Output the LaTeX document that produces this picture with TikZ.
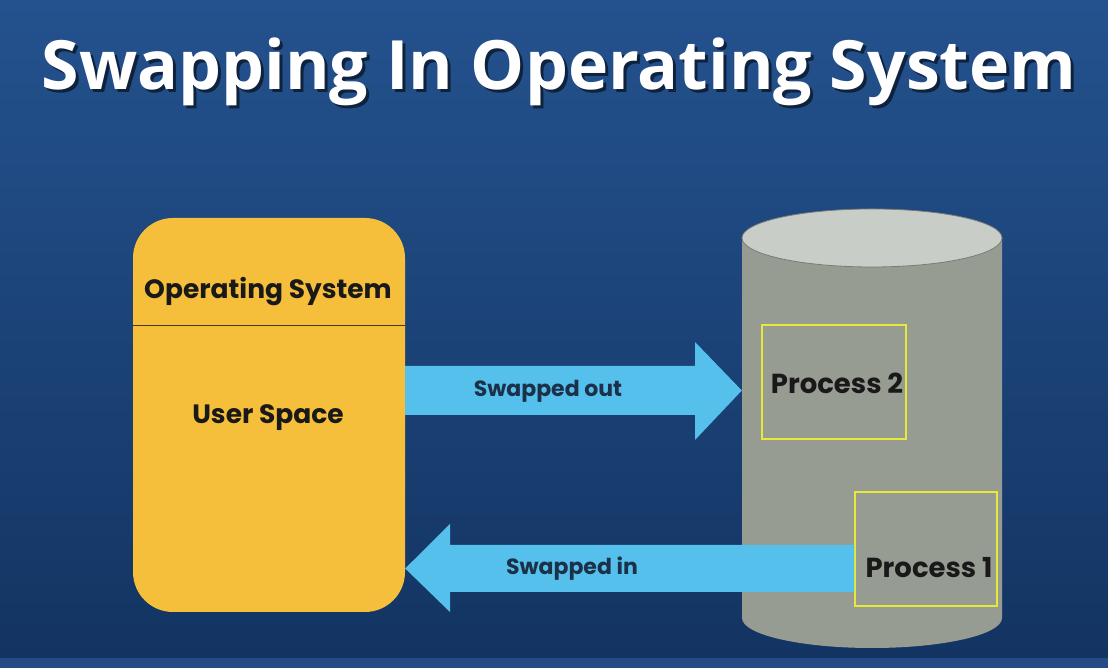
\documentclass[tikz,border=0pt]{standalone}
\usepackage{fontspec}
\setmainfont{Open Sans}
\newfontfamily\labelfont{Poppins}
\usetikzlibrary{calc}
\definecolor{bgtop}{HTML}{24528E}
\definecolor{bgbot}{HTML}{133462}
\definecolor{strip}{HTML}{234C86}
\definecolor{osyellow}{HTML}{F5BE3B}
\definecolor{arrowblue}{HTML}{56C0EC}
\definecolor{cylbody}{HTML}{979C93}
\definecolor{cyltop}{HTML}{C9CDC7}
\definecolor{procedge}{HTML}{E6E83A}
\definecolor{arrowtext}{HTML}{1B3049}
\begin{document}
\begin{tikzpicture}[x=1pt,y=1pt,
  lbl/.style={font=\labelfont\bfseries\fontsize{26.5}{26.5}\selectfont, text=black!90},
  procbox/.style={draw=procedge, line width=2pt, minimum width=#1, minimum height=114pt, inner sep=0pt},
  proclbl/.style={font=\labelfont\bfseries\fontsize{27.5}{27.5}\selectfont, text=black!90, inner sep=0pt},
  arrtxt/.style={font=\labelfont\bfseries\fontsize{22}{22}\selectfont, text=arrowtext, inner sep=0pt},
  bigarrow/.style={fill=arrowblue}]
\useasboundingbox (0,0) rectangle (1108,668);
% background
\shade[top color=bgtop, bottom color=bgbot] (0,10) rectangle (1108,668);
\fill[strip] (0,0) rectangle (1108,10);
% title
\node[anchor=base, text=black!70!bgbot, opacity=0.7, font=\bfseries\fontsize{68}{68}\selectfont] at (562,575) {Swapping In Operating System};
\node[anchor=base, text=white, font=\bfseries\fontsize{68}{68}\selectfont] (title) at (559,578) {Swapping In Operating System};
% memory box
\node[fill=osyellow, rounded corners=40pt, minimum width=272pt, minimum height=394pt, inner sep=0pt] (mem) at (269,253) {};
\draw[black!70!osyellow, line width=1pt] (mem.west |- 0,342) -- (mem.east |- 0,342);
\node[lbl] (os) at (268,376) {Operating System};
\node[lbl] (us) at (268,250) {User Space};
% cylinder (disk)
\coordinate (cyltopc) at (872,430);
\coordinate (cylbotc) at (872,50);
\fill[cylbody] (742,430) -- (742,50) arc[start angle=180, end angle=360, x radius=130, y radius=30] -- (1002,430) -- cycle;
\draw[cyltop!60!black, line width=0.8pt, fill=cyltop] (cyltopc) ellipse[x radius=130, y radius=29];
\node[inner sep=0pt, minimum width=260pt, minimum height=410pt] (disk) at (872,240) {};
% process boxes
\node[procbox=144pt] (p2) at (834,286) {};
\node[proclbl] (p2l) at (837,285) {Process 2};
\node[procbox=142pt] (p1) at (926,119) {};
\node[proclbl] (p1l) at (929,100) {Process 1};
% swapped out arrow
\fill[bigarrow] (mem.east |- 0,302) -- (695,302) -- (695,326) -- (disk.west |- 0,277.5) -- (695,228) -- (695,253) -- (mem.east |- 0,253) -- cycle;
\node[arrtxt] (sol) at (548,277) {Swapped out};
% swapped in arrow
\fill[bigarrow] (p1.west |- 0,123) -- (450,123) -- (450,144) -- (mem.east |- 0,99.5) -- (450,56) -- (450,76) -- (p1.west |- 0,76) -- cycle;
\node[arrtxt] (sil) at (572,99) {Swapped in};
\end{tikzpicture}
\end{document}
